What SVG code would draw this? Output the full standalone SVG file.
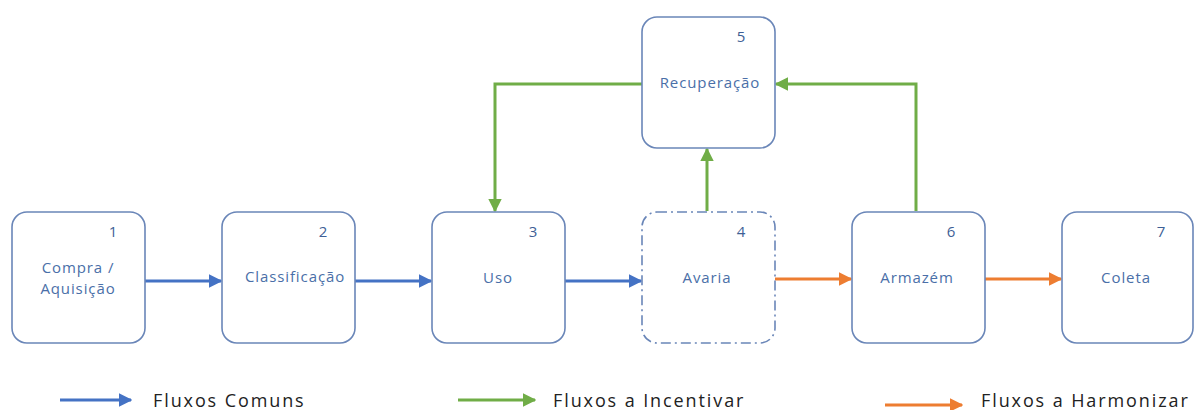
<svg xmlns="http://www.w3.org/2000/svg" width="1195" height="410" viewBox="0 0 1195 410">
<style>
.box{fill:#fff;stroke:#6a86b8;stroke-width:1.6}
.dash{stroke-dasharray:10 4 2 4}
.lbl{font-family:"Open Sans","Liberation Sans",sans-serif;font-size:15px;fill:#4a6fa8;letter-spacing:0.9px;text-anchor:middle}
.num{font-family:"Open Sans","Liberation Sans",sans-serif;font-size:15px;fill:#3e5f96;text-anchor:middle}
.leg{font-family:"Open Sans","Liberation Sans",sans-serif;font-size:18px;fill:#222;letter-spacing:1.9px}
.b{stroke:#4472c4;stroke-width:3;fill:none}
.g{stroke:#70ad47;stroke-width:3;fill:none}
.o{stroke:#ed7d31;stroke-width:3;fill:none}
</style>
<defs>
<marker id="ab" viewBox="0 0 10 10" refX="9" refY="5" markerWidth="4.5" markerHeight="4.5" markerUnits="strokeWidth" orient="auto"><path d="M0,0L10,5L0,10z" fill="#4472c4"/></marker>
<marker id="ag" viewBox="0 0 10 10" refX="9" refY="5" markerWidth="4.5" markerHeight="4.5" markerUnits="strokeWidth" orient="auto"><path d="M0,0L10,5L0,10z" fill="#70ad47"/></marker>
<marker id="ao" viewBox="0 0 10 10" refX="9" refY="5" markerWidth="4.5" markerHeight="4.5" markerUnits="strokeWidth" orient="auto"><path d="M0,0L10,5L0,10z" fill="#ed7d31"/></marker>
</defs>
<g id="connectors">
<line class="b" x1="145" y1="281" x2="221" y2="281" marker-end="url(#ab)"/>
<line class="b" x1="355" y1="281" x2="431" y2="281" marker-end="url(#ab)"/>
<line class="b" x1="565" y1="281" x2="641" y2="281" marker-end="url(#ab)"/>
<line class="o" x1="775" y1="279" x2="851" y2="279" marker-end="url(#ao)"/>
<line class="o" x1="985" y1="279" x2="1061" y2="279" marker-end="url(#ao)"/>
<polyline class="g" points="642,84 495,84 495,211" marker-end="url(#ag)"/>
<line class="g" x1="707" y1="211" x2="707" y2="149" marker-end="url(#ag)"/>
<polyline class="g" points="916,211 916,84 776,84" marker-end="url(#ag)"/>
</g>
<g id="n1"><rect class="box" x="12" y="212" width="133" height="131" rx="15"/><text class="num" x="113" y="237">1</text><text class="lbl" x="78" y="273">Compra /</text><text class="lbl" x="78" y="294">Aquisição</text></g>
<g id="n2"><rect class="box" x="222" y="212" width="133" height="131" rx="15"/><text class="num" x="323" y="237">2</text><text class="lbl" x="295" y="282">Classificação</text></g>
<g id="n3"><rect class="box" x="432" y="212" width="133" height="131" rx="15"/><text class="num" x="533" y="237">3</text><text class="lbl" x="498" y="283">Uso</text></g>
<g id="n4"><rect class="box dash" x="642" y="212" width="133" height="131" rx="15"/><text class="num" x="741" y="237">4</text><text class="lbl" x="707" y="283">Avaria</text></g>
<g id="n5"><rect class="box" x="642" y="17" width="133" height="131" rx="15"/><text class="num" x="741" y="42">5</text><text class="lbl" x="710" y="88">Recuperação</text></g>
<g id="n6"><rect class="box" x="852" y="212" width="133" height="131" rx="15"/><text class="num" x="951" y="237">6</text><text class="lbl" x="917" y="283">Armazém</text></g>
<g id="n7"><rect class="box" x="1062" y="212" width="131" height="131" rx="15"/><text class="num" x="1161" y="237">7</text><text class="lbl" x="1126" y="283">Coleta</text></g>
<g id="legend">
<line class="b" x1="60" y1="400" x2="131" y2="400" marker-end="url(#ab)"/>
<text class="leg" x="153" y="407">Fluxos Comuns</text>
<line class="g" x1="458" y1="400" x2="535" y2="400" marker-end="url(#ag)"/>
<text class="leg" x="553" y="407">Fluxos a Incentivar</text>
<line class="o" x1="885" y1="405" x2="962" y2="405" marker-end="url(#ao)"/>
<text class="leg" x="981" y="407">Fluxos a Harmonizar</text>
</g>
</svg>
